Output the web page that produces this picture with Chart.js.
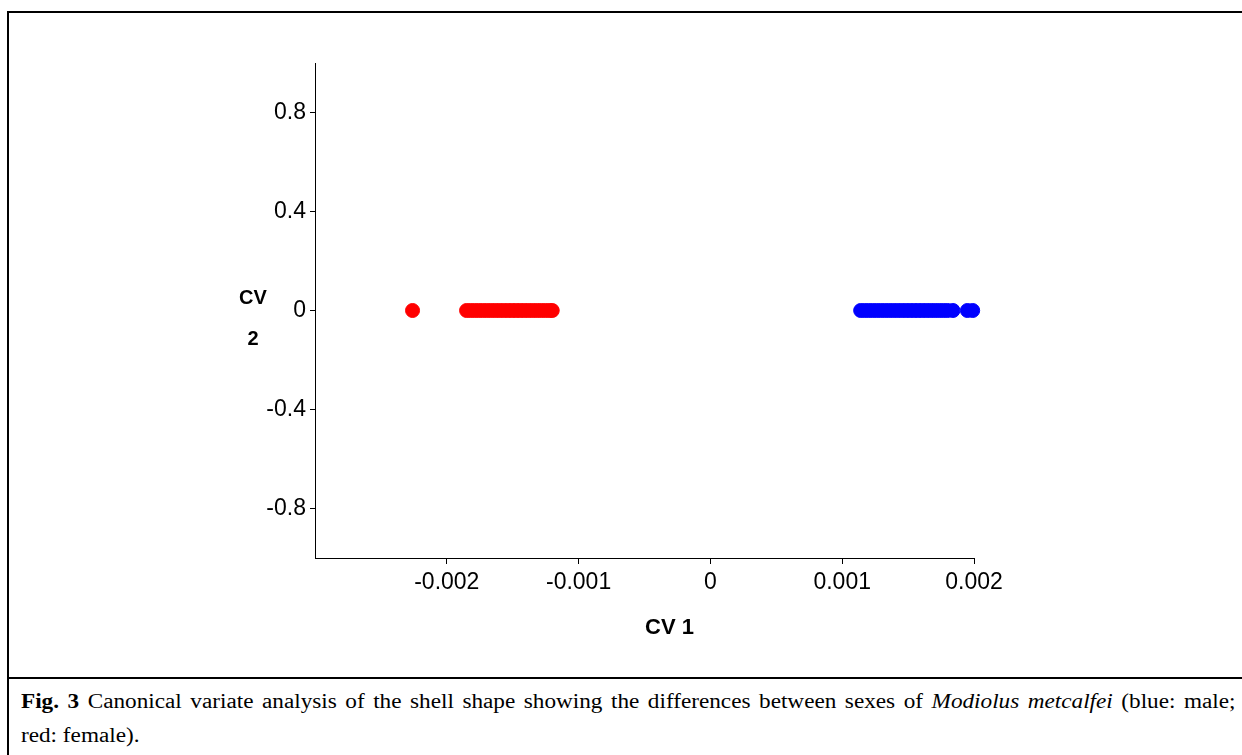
<!DOCTYPE html>
<html>
<head>
<meta charset="utf-8">
<script src="https://cdn.jsdelivr.net/npm/chart.js@4"></script>
<style>
  html, body { margin: 0; padding: 0; background: #fff; }
  body { width: 1242px; height: 755px; position: relative; overflow: hidden; }
  #frame { position: absolute; left: 7px; top: 11px; width: 1260px; height: 800px; border: 2px solid #000; box-sizing: border-box; }
  #divider { position: absolute; left: 7px; top: 677px; width: 1260px; height: 2px; background: #000; }
  #chartBox { position: absolute; left: 0; top: 0; width: 1242px; height: 670px; }
  .cap { position: absolute; left: 21px; font-family: 'Liberation Serif', 'Times New Roman', serif; font-size: 20px; color: #000; white-space: nowrap; transform: scaleX(1.16); transform-origin: left top; }
  #cap1 { top: 690px; width: 1047px; text-align: justify; text-align-last: justify; white-space: normal; }
  #cap2 { top: 724px; }
</style>
</head>
<body>
<div id="frame"></div>
<div id="divider"></div>
<div id="chartBox"><canvas id="myChart"></canvas></div>
<div class="cap" id="cap1"><b>Fig. 3</b> Canonical variate analysis of the shell shape showing the differences between sexes of <i>Modiolus metcalfei</i> (blue: male;</div>
<div class="cap" id="cap2">red: female).</div>
<script>
// CV scores
const femaleCV1 = [-0.00226, -0.00185, -0.00182, -0.00179, -0.00176, -0.00173, -0.0017, -0.00167, -0.00164,
  -0.00161, -0.00158, -0.00155, -0.00152, -0.00149, -0.00146, -0.00143, -0.0014, -0.00137, -0.00134,
  -0.00131, -0.00128, -0.00125, -0.00122, -0.0012];
const femaleCV2 = [0, 0, 0, 0, 0, 0, 0, 0, 0, 0, 0, 0, 0, 0, 0, 0, 0, 0, 0, 0, 0, 0, 0, 0];
const maleCV1 = [0.00114, 0.00117, 0.0012, 0.00123, 0.00126, 0.00129, 0.00132, 0.00135, 0.00138, 0.00141,
  0.00144, 0.00147, 0.0015, 0.00153, 0.00156, 0.00159, 0.00162, 0.00165, 0.00168, 0.00171, 0.00174,
  0.00177, 0.0018, 0.00184, 0.00195, 0.00199];
const maleCV2 = [0, 0, 0, 0, 0, 0, 0, 0, 0, 0, 0, 0, 0, 0, 0, 0, 0, 0, 0, 0, 0, 0, 0, 0, 0, 0];
const xTicks = [-0.002, -0.001, 0, 0.001, 0.002];
const yTicks = [-0.8, -0.4, 0, 0.4, 0.8];

const toPoints = (xs, ys) => xs.map((x, i) => ({ x: x, y: ys[i] }));

// axis titles drawn by hand: CV 2 sits level on two lines, CV 1 is off centre
const axisTitles = {
  id: 'axisTitles',
  afterDraw(chart) {
    const c = chart.ctx;
    const area = chart.chartArea;
    const y0 = chart.scales.y.getPixelForValue(0);
    c.save();
    c.fillStyle = '#000';
    c.textAlign = 'center';
    c.textBaseline = 'middle';
    c.font = 'bold 20px "Liberation Sans", Arial, sans-serif';
    c.fillText('CV', area.left - 62, y0 - 12);
    c.fillText('2', area.left - 62, y0 + 29);
    c.font = 'bold 22px "Liberation Sans", Arial, sans-serif';
    c.fillText('CV 1', (area.left + area.right) / 2 + 25, area.bottom + 70);
    c.restore();
  }
};

const ctx = document.getElementById('myChart');

new Chart(ctx, {
  type: 'scatter',
  data: {
    datasets: [
      {
        label: 'female',
        data: toPoints(femaleCV1, femaleCV2),
        backgroundColor: '#ff0000',
        borderColor: '#ff0000',
        pointRadius: 7,
        clip: false,
      },
      {
        label: 'male',
        data: toPoints(maleCV1, maleCV2),
        backgroundColor: '#0000ff',
        borderColor: '#0000ff',
        pointRadius: 7,
        clip: false,
      },
    ],
  },
  options: {
    responsive: true,
    maintainAspectRatio: false,
    animation: false,
    layout: { padding: { left: 0, right: 268, top: 63, bottom: 0 } },
    plugins: { legend: { display: false }, tooltip: { enabled: false } },
    scales: {
      x: {
        type: 'linear',
        min: -0.003,
        max: 0.002,
        afterBuildTicks: (scale) => { scale.ticks = xTicks.map((v) => ({ value: v })); },
        afterFit: (scale) => { scale.height = 112; },
        grid: { drawOnChartArea: false, drawTicks: true, tickLength: 6, color: '#000' },
        border: { display: true, color: '#000', width: 1 },
        ticks: {
          color: '#000',
          padding: 5,
          maxRotation: 0,
          font: { family: '"Liberation Sans", Arial', size: 23 },
          callback: (v) => String(v),
        },
      },
      y: {
        type: 'linear',
        min: -1,
        max: 1,
        afterBuildTicks: (scale) => { scale.ticks = yTicks.map((v) => ({ value: v })); },
        afterFit: (scale) => { scale.width = 315; },
        grid: { drawOnChartArea: false, drawTicks: true, tickLength: 5, color: '#000' },
        border: { display: true, color: '#000', width: 1 },
        ticks: {
          color: '#000',
          padding: 4,
          font: { family: '"Liberation Sans", Arial', size: 23 },
          callback: (v) => String(v),
        },
      },
    },
  },
  plugins: [axisTitles],
});
</script>
</body>
</html>
